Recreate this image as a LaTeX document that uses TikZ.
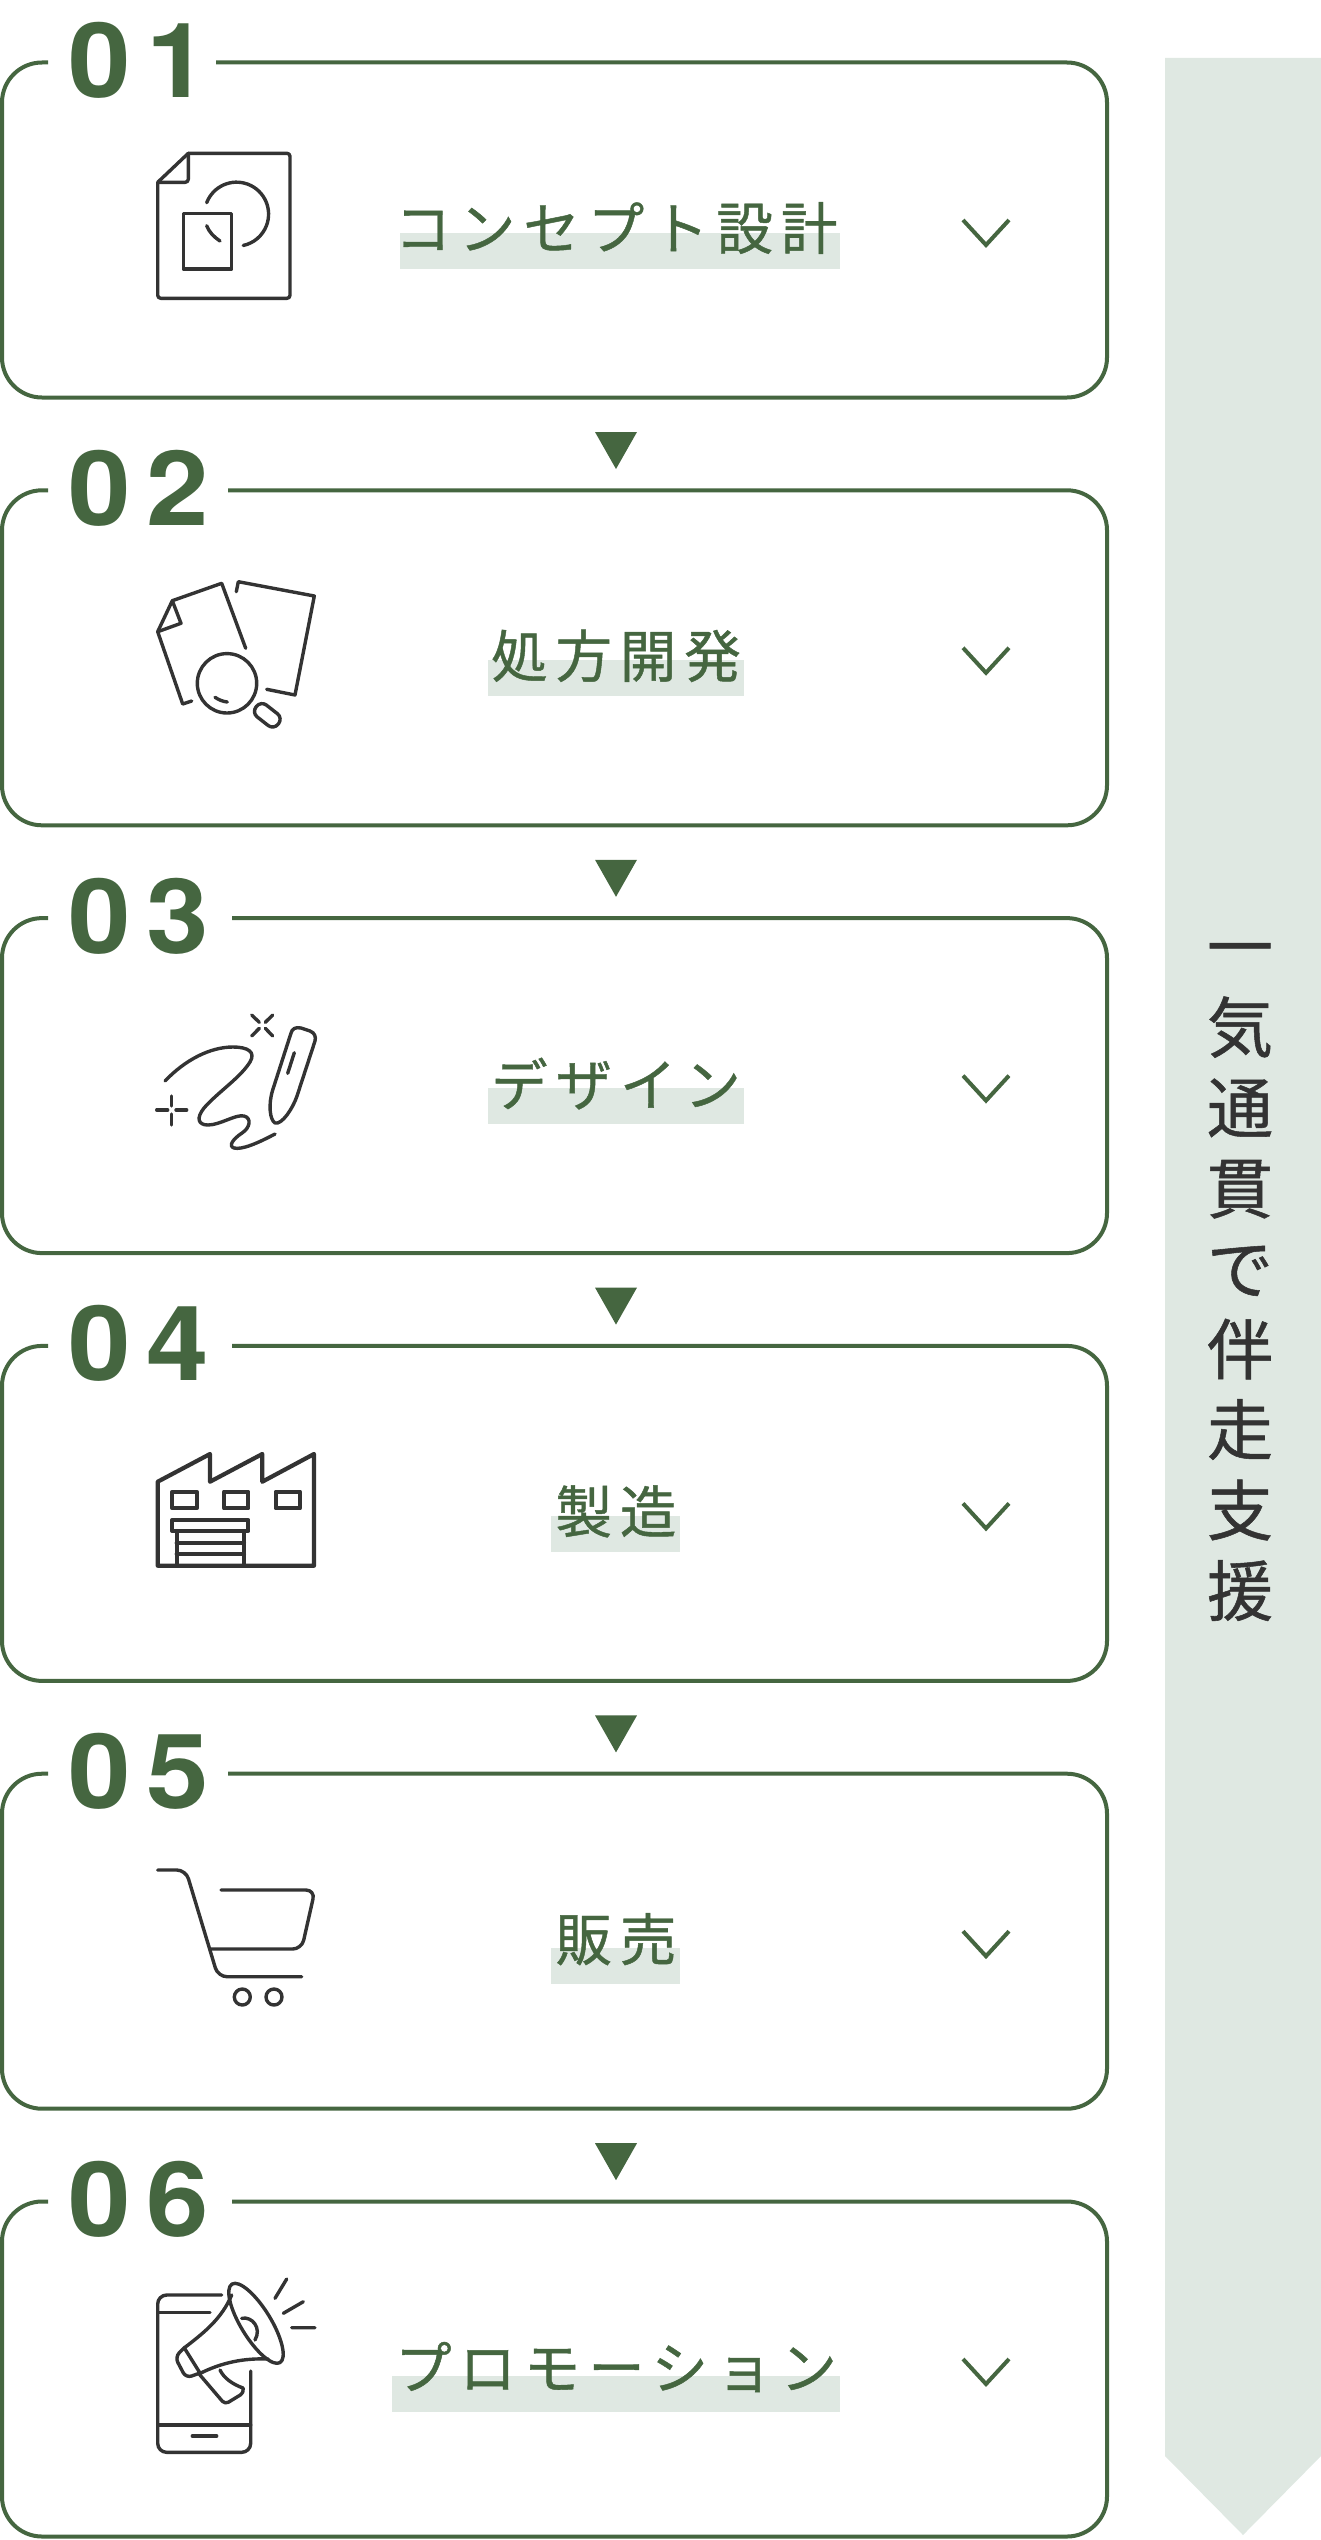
\documentclass[tikz,border=0pt]{standalone}
\usepackage{fontspec}
\newfontfamily\jp{Noto Sans CJK JP}
\newfontfamily\jplabel[LetterSpace=14,FakeBold=0.8]{Noto Sans CJK JP}
\newfontfamily\jpside[FakeBold=0.8]{Noto Sans CJK JP}
\newfontfamily\digitfont[LetterSpace=15,FakeStretch=1.08]{TeX Gyre Heros}
\definecolor{grn}{HTML}{456640}
\definecolor{pale}{HTML}{DFE8E2}
\definecolor{ink}{HTML}{333333}
\tikzset{
  panel/.style={draw=grn,line width=4pt,rounded corners=40pt},
  hl/.style={fill=pale,draw=none},
  lab/.style={text=grn,inner sep=0pt,font=\jplabel\fontsize{56.5}{60}\selectfont},
  num/.style={text=grn,inner sep=0pt,anchor=base west,font=\digitfont\bfseries\fontsize{104}{110}\selectfont},
  chev/.style={draw=grn,line width=4pt},
  tri/.style={fill=grn,draw=none},
  ic/.style={draw=ink,line width=3.4pt,line cap=round,line join=round},
  icb/.style={draw=ink,line width=4.2pt,line cap=round,line join=round}
}
\begin{document}
\begin{tikzpicture}[x=1pt,y=-1pt]
\useasboundingbox (0,0) rectangle (1320,2540);
% side banner
\fill[pale] (1165,58) -- (1321,58) -- (1321,2456) -- (1243,2535) -- (1165,2456) -- cycle;
\node[text=ink,inner sep=0pt,align=center,font=\jpside\fontsize{66}{80.5}\selectfont] (side) at (1240,1282)
 {一\\気\\通\\貫\\で\\伴\\走\\支\\援};
% panels
\foreach \i/\t/\g/\a/\b/\h/\lbl/\n in {
 0/62.5/216/400/840/170/{コンセプト設計}/01,
 1/490.3/228/488/744/170/{処方開発}/02,
 2/918.1/232/488/744/170/{デザイン}/03,
 3/1345.9/232/551/680/170/{製造}/04,
 4/1773.7/228/551/680/174/{販売}/05,
 5/2201.5/232/392/840/174/{プロモーション}/06}{
  \draw[panel] (\g,\t) -- (1107,\t) -- (1107,\t+335) -- (2,\t+335) -- (2,\t) -- (48,\t);
  \fill[hl] (\a,\t+\h) rectangle (\b,\t+\h+36);
  \node[lab] (label\i) at (616,\t+165.5) {\lbl};
  \node[num] (num\i) at (68,\t+35) {\n};
  \draw[chev] (963,\t+157.5) -- (986,\t+182.5) -- (1009,\t+157.5);
}
\foreach \t in {432,859.8,1287.6,1715.4,2143.2}
  \fill[tri] (595,\t) -- (637,\t) -- (616,\t+37) -- cycle;
% icon 1
\draw[ic,rounded corners=3pt] (188.3,153.3) -- (290,153.3) -- (290,298.3) -- (157.7,298.3) -- (157.7,182.3);
\draw[ic] (157.7,182.3) -- (188.3,153.3);
\draw[ic,rounded corners=3pt] (188.3,153.3) -- (188.3,182.3) -- (157.7,182.3);
\draw[ic] (183.3,213.5) rectangle (231.7,269);
\draw[ic] (206.7,202.7) arc[start angle=-159,end angle=78,radius=32];
\draw[ic] (206.7,225.7) .. controls (209,232) and (214,237) .. (220,241);
% icon 2
\draw[ic] (245.7,648.3) -- (221.7,583.3) -- (172.3,600.7) -- (157.7,631.7) -- (182.7,704) -- (191.7,701);
\draw[ic] (172.3,600.7) -- (181,623.3) -- (157.7,631.7);
\draw[ic] (236.3,591.7) -- (238.3,581.7) -- (314.3,596) -- (295,695) -- (266.7,689.3);
\draw[ic] (227,683.3) circle[radius=29.7];
\draw[ic] (215,697.3) .. controls (219,700) and (223,701.5) .. (227.3,702);
\begin{scope}[shift={(267.3,715.3)},rotate=-38]
\draw[ic,rounded corners=7pt] (-14,-7.5) rectangle (14,7.5);
\end{scope}
% icon 3
\draw[ic] (165,1081) .. controls (185,1060) and (210,1047) .. (233,1047) .. controls (248,1047) and (256,1052) .. (250,1062) .. controls (240,1078) and (218,1092) .. (204,1108) .. controls (196,1118) and (198,1125) .. (208,1125) .. controls (220,1125) and (236,1114) .. (244,1116) .. controls (252,1118) and (250,1128) .. (242,1133) .. controls (233,1139) and (228,1146) .. (234,1148) .. controls (242,1150) and (258,1143) .. (275,1134);
\draw[ic] (275,1123) .. controls (270,1120) and (268,1105) .. (272.7,1090) -- (290.7,1034) .. controls (292,1028) and (296,1027) .. (301,1028) -- (310,1031) .. controls (315,1033) and (316,1037) .. (315,1041) -- (297,1096) .. controls (293,1108) and (282,1125) .. (275,1123) -- cycle;
\draw[ic] (294.3,1052.7) -- (287.7,1073.3);
\draw[ic] (251.7,1015) -- (259.3,1022.3) (272.7,1015) -- (265.3,1022.3) (251.7,1036) -- (259.3,1028.3) (272.7,1036) -- (265.3,1028.3);
\draw[ic] (156.7,1110) -- (167.7,1110) (176,1110) -- (186.7,1110) (171.7,1096) -- (171.7,1106) (171.7,1114) -- (171.7,1125);
% icon 4
\draw[icb] (157.7,1481.7) -- (210,1454) -- (210,1481.7) -- (262.3,1454) -- (262.3,1481.7) -- (314,1454) -- (314,1565.7) -- (157.7,1565.7) -- cycle;
\draw[icb] (172.3,1491.7) rectangle (196.7,1508.3);
\draw[icb] (224,1491.7) rectangle (248.3,1508.3);
\draw[icb] (275.7,1491.7) rectangle (300,1508.3);
\draw[icb] (172.3,1520) rectangle (248.3,1531);
\draw[icb] (176.7,1531) -- (176.7,1565.7) (244,1531) -- (244,1565.7);
\draw[icb] (176.7,1542.7) -- (244,1542.7) (176.7,1554.3) -- (244,1554.3);
% icon 5
\draw[ic,rounded corners=9pt] (157.7,1870) -- (185.8,1870) -- (218,1976.7) -- (301.7,1976.7);
\draw[ic,rounded corners=9pt] (221,1890) -- (315,1890) -- (301.7,1949) -- (210,1949);
\draw[ic] (242.3,1997) circle[radius=8];
\draw[ic] (274,1997) circle[radius=8];
% icon 6
\draw[ic,rounded corners=9pt] (221.7,2295) -- (157.7,2295) -- (157.7,2452.3) -- (250.7,2452.3) -- (250.7,2371);
\draw[ic] (157.7,2312.7) -- (210,2312.7);
\draw[ic] (157.7,2425) -- (250.7,2425);
\draw[ic] (192.3,2436) -- (216.7,2436);
\begin{scope}[shift={(256,2323.3)},rotate=-58.5]
\draw[ic] (0,0) ellipse[x radius=46,y radius=15];
\end{scope}
\draw[ic] (231.7,2295) .. controls (222,2318) and (205,2332) .. (185,2347.3);
\draw[ic] (268.3,2359) .. controls (245,2358) and (222,2362) .. (198.3,2374.3);
\draw[ic,rounded corners=6pt] (185,2347) -- (175,2357) -- (186,2378) -- (200,2373);
\draw[ic] (185,2349) -- (200,2373);
\draw[ic,rounded corners=4pt] (200,2375) -- (225,2404.3) -- (244,2392.7) -- (243,2388);
\draw[ic] (243,2388) .. controls (232,2384) and (224,2378) .. (220,2370);
\draw[ic] (241.7,2318.3) .. controls (252,2316) and (262,2328) .. (255,2340);
\draw[ic] (286.7,2279) -- (275,2298.3) (303.3,2301.7) -- (283.3,2313.3) (291.7,2327.7) -- (315,2327.7);
\end{tikzpicture}
\end{document}
